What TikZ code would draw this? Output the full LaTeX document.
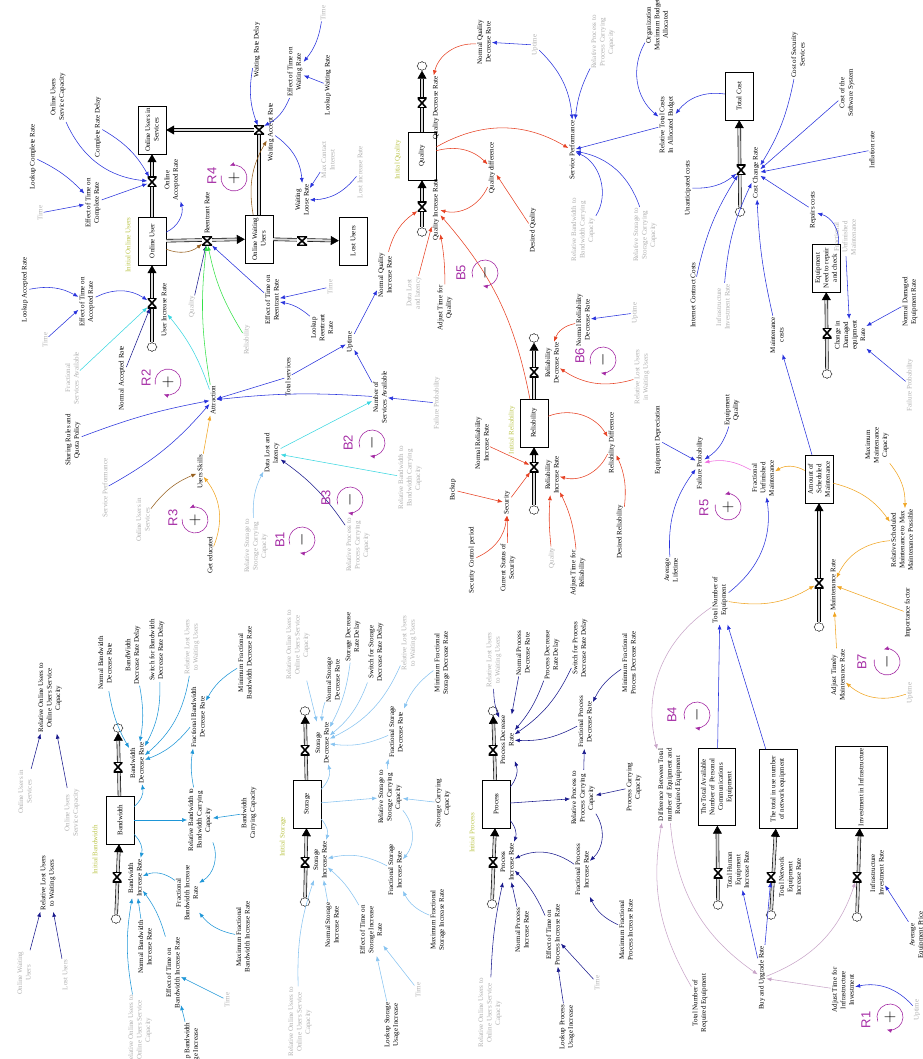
\documentclass[tikz,border=0pt]{standalone}
\usepackage{fontspec}
\setmainfont{Liberation Serif}
\setsansfont{Liberation Sans}
\usetikzlibrary{arrows.meta,shapes.symbols}
\definecolor{LinkBlue}{RGB}{40,50,220}
\definecolor{LinkNavy}{RGB}{25,25,140}
\definecolor{LinkCyan}{RGB}{30,150,215}
\definecolor{LinkSky}{RGB}{135,195,240}
\definecolor{LinkAqua}{RGB}{60,215,225}
\definecolor{LinkRed}{RGB}{230,65,35}
\definecolor{LinkOrange}{RGB}{240,165,35}
\definecolor{LinkBrown}{RGB}{150,95,30}
\definecolor{LinkGreen}{RGB}{50,225,70}
\definecolor{LinkPink}{RGB}{240,110,225}
\definecolor{LinkLilac}{RGB}{200,165,200}
\definecolor{LoopPurple}{RGB}{165,45,165}
\definecolor{InitOlive}{RGB}{185,195,70}
\definecolor{ShadowGray}{RGB}{175,175,175}
\tikzset{var/.style={rotate=90,align=center,inner sep=1pt,font=\fontsize{7}{8.5}\selectfont}, ghost/.style={var,text=ShadowGray}, init/.style={var,text=InitOlive},
stock/.style={var,draw,fill=white,inner sep=2pt,minimum width=48pt,minimum height=28pt},
pipe/.style={line width=0.6pt,double=gray!30,double distance=2.2pt,-{Triangle[length=8pt,width=9pt]}},
valve/.style={minimum width=9pt,minimum height=10pt,inner sep=0pt,fill=white,path picture={\draw[line width=1.6pt] (path picture bounding box.north west) -- (path picture bounding box.north east) -- (path picture bounding box.south west) -- (path picture bounding box.south east) -- cycle;}},
hvalve/.style={valve,rotate=90},
sink/.style={cloud,cloud puffs=8,draw,fill=white,minimum width=10pt,minimum height=9pt,inner sep=0pt},
lnk/.style={-{Latex[length=5pt,width=4pt]},line width=0.55pt},
loopsign/.style={rotate=90,inner sep=0pt,font=\fontsize{18}{18}\selectfont},
looplab/.style={rotate=90,text=LoopPurple,font=\sffamily\fontsize{13}{13}\selectfont},
loopring/.style={draw=LoopPurple,line width=0.6pt,-{Latex[length=5pt,width=4pt]}}}

\begin{document}
\begin{tikzpicture}[x=1pt,y=-1pt]
\useasboundingbox (0,0) rectangle (922,1059);
% users
\node[stock] (ous) at (152,130) {Online Users in\\Services};
\node[stock] (ou) at (152,241) {Online User};
\node[stock] (owu) at (259,239) {Online Waiting\\Users};
\node[stock] (lu) at (353,241) {Lost Users};
\node[init] (iou) at (128,245) {Initial Online Users};
\node[sink] (cuir) at (152,347) {};
\node[var] (uir) at (164,310) {User Increase Rate};
\node[var] (oar) at (172,180) {Online\\Accepted Rate};
\node[var] (rr) at (207,213) {Reentrant Rate};
\node[var] (war) at (271,132) {Waiting Accept Rate};
\node[var] (wlr) at (302,200) {Waiting\\Loose Rate};
\node[var] (lcr) at (33,157) {Lookup Complete Rate};
\node[var] (etcr) at (93,203) {Effect of Time on\\Complete Rate};
\node[ghost] (tm1) at (40,213) {Time};
\node[var] (ousc) at (58,97) {Online Users\\Service Capacity};
\node[var] (crd) at (98,127) {Complete Rate Delay};
\node[var] (lar) at (25,290) {Lookup Accepted Rate};
\node[var] (etar) at (87,302) {Effect of Time on\\Accepted Rate};
\node[ghost] (tm2) at (45,340) {Time};
\node[ghost] (fsa) at (72,378) {Fractional\\Services Available};
\node[var] (nar) at (122,378) {Normal Accepted Rate};
\node[ghost] (qu1) at (192,307) {Quality};
\node[ghost] (rel1) at (247,340) {Reliability};
\node[var] (etrr) at (272,300) {Effect of Time on\\Reentrant Rate};
\node[ghost] (tm3) at (330,287) {Time};
\node[var] (lrr) at (322,328) {Lookup\\Reentrant\\Rate};
\node[var] (wrd) at (257,50) {Waiting Rate Delay};
\node[var] (etwr) at (295,72) {Effect of Time on\\Waiting Rate};
\node[var] (lwr) at (328,85) {Lookup Waiting Rate};
\node[ghost] (tm4) at (323,13) {Time};
\node[ghost] (mci) at (328,160) {Max Contact\\Interest};
\node[ghost] (lir) at (360,172) {Lost Increase Rate};
% attraction
\node[var] (attr) at (213,400) {Attraction};
\node[var] (srqp) at (73,440) {Sharing Rules and\\Quota Policy};
\node[ghost] (sp1) at (105,488) {Service Performance};
\node[var] (usk) at (200,472) {Users Skills};
\node[ghost] (ous2) at (143,520) {Online Users in\\Services};
\node[var] (ged) at (210,555) {Get educated};
\node[var] (tsv) at (288,377) {Total services};
\node[var] (nsa) at (380,397) {Number of\\Services Available};
\node[var] (upt) at (350,342) {Uptime};
\node[ghost] (fp1) at (437,403) {Failure Probability};
\node[var] (dll) at (272,453) {Data Lost and\\latency};
\node[ghost] (rbc1) at (410,478) {Relative Bandwidth to\\Bandwidth Carrying\\Capacity};
\node[ghost] (rsc1) at (256,546) {Relative Storage to\\Storage Carrying\\Capacity};
\node[ghost] (rpc1) at (358,545) {Relative Process to\\Process Carrying\\Capacity};
% quality
\node[stock] (q) at (422,156) {Quality};
\node[init] (iq) at (398,160) {Initial Quality};
\node[sink] (cqi) at (422,232) {};
\node[sink] (cqd) at (422,66) {};
\node[var] (qir) at (436,210) {Quality Increase Rate};
\node[var] (qdr) at (436,108) {Quality Decrease Rate};
\node[var] (nqdr) at (484,42) {Normal Quality\\Decrease Rate};
\node[ghost] (upt2) at (535,45) {Uptime};
\node[ghost] (rpc2) at (603,42) {Relative Process to\\Process Carrying\\Capacity};
\node[var] (sp) at (572,150) {Service Performance};
\node[var] (qd) at (492,168) {Quality difference};
\node[var] (dq) at (533,230) {Desired Quality};
\node[ghost] (rbc2) at (583,230) {Relative Bandwidth to\\Bandwidth Carrying\\Capacity};
\node[ghost] (rsc2) at (645,235) {Relative Storage to\\Storage Carrying\\Capacity};
\node[var] (nqir) at (385,275) {Normal Quality\\Increase Rate};
\node[ghost] (dll2) at (414,293) {Data Lost\\and latency};
\node[var] (atq) at (445,308) {Adjust Time for\\Quality};
% reliability
\node[stock] (r) at (534,423) {Reliability};
\node[init] (ir) at (512,430) {Initial Reliability};
\node[sink] (cri) at (534,510) {};
\node[sink] (crd2) at (534,338) {};
\node[var] (rir) at (552,475) {Reliability\\Increase Rate};
\node[var] (rdr) at (552,363) {Reliability\\Decrease Rate};
\node[var] (nrir) at (482,443) {Normal Reliability\\Increase Rate};
\node[var] (bkp) at (453,490) {Backup};
\node[var] (sec) at (507,503) {Security};
\node[var] (scp) at (472,560) {Security Control period};
\node[var] (css) at (508,568) {Current Status of\\Security};
\node[ghost] (qu2) at (552,558) {Quality};
\node[var] (atr) at (578,573) {Adjust Time for\\Reliability};
\node[var] (rd) at (612,443) {Reliability Difference};
\node[var] (dr) at (620,532) {Desired Reliability};
\node[var] (nrdr) at (583,320) {Normal Reliability\\Decrease Rate};
\node[ghost] (upt3) at (635,313) {Uptime};
\node[ghost] (rlw1) at (642,377) {Relative Lost Users\\in Waiting Users};
% cost
\node[stock] (tc) at (739,96) {Total Cost};
\node[sink] (ccc) at (740,212) {};
\node[var] (ccr) at (756,173) {Cost Change Rate};
\node[var] (omb) at (657,25) {Organization\\Maximum Budget\\Allocated};
\node[var] (rtc) at (667,125) {Relative Total Costs\\In Allocated Budget};
\node[var] (cssv) at (798,55) {Cost of Security\\Services};
\node[var] (cssy) at (847,93) {Cost of the\\Software System};
\node[var] (infr) at (872,150) {Inflation rate};
\node[var] (repc) at (813,210) {Repairs costs};
\node[stock,minimum width=48pt] (enr) at (826,268) {Equipment\\Need to repair\\and check};
\node[sink] (cce) at (827,374) {};
\node[var] (cder) at (850,335) {Change in\\Damaged\\equipment\\Rate};
\node[var] (ndr) at (910,302) {Normal Damaged\\Equipment Rate};
\node[ghost] (fp2) at (910,385) {Failure Probability};
\node[ghost] (fum2) at (845,237) {Fractional\\Unfinished\\Maintenance};
\node[var] (uc) at (688,188) {Unanticipated costs};
\node[var] (icc) at (693,295) {Internet Contract Costs};
\node[ghost] (iir1) at (723,307) {Infrastructure\\Investment Rate};
\node[var] (mc) at (777,335) {Maintenance\\costs};
% maintenance
\node[stock] (asm) at (819,479) {Amount of\\Scheduled\\Maintenance};
\node[sink] (cm) at (819,627) {};
\node[var] (mr) at (833,585) {Maintenance Rate};
\node[var] (fum) at (763,478) {Fractional\\Unfinished\\Maintenance};
\node[var] (fp) at (700,463) {Failure Probability};
\node[var] (edp) at (658,440) {Equipment Depreciation};
\node[var] (eq) at (732,410) {Equipment\\Quality};
\node[var] (al) at (671,570) {Average\\Lifetime};
\node[var] (tne) at (720,600) {Total Number of\\Equipment};
\node[var] (rsm) at (902,540) {Relative Scheduled\\Maintenance to Max\\Maintenance Possible};
\node[var] (mmc) at (877,445) {Maximum\\Maintenance\\Capacity};
\node[var] (imf) at (908,613) {Importance factor};
\node[var] (atm) at (838,675) {Adjust Timely\\Maintenance Rate};
\node[ghost] (upt4) at (910,693) {Uptime};
% equipment
\node[stock,minimum width=77pt,minimum height=37pt] (tap) at (717,787) {The Total Available\\Number of Personal\\Communications\\Equipment};
\node[stock,minimum width=79pt,minimum height=38pt] (tnu) at (778,789) {The total in use number\\of network equipment};
\node[stock,minimum width=82pt,minimum height=52pt] (iinf) at (861,787) {Investment in Infrastructure};
\node[sink] (cth) at (718,905) {};
\node[sink] (ctn) at (771,915) {};
\node[sink] (cii) at (857,917) {};
\node[var] (their) at (738,870) {Total Human\\Equipment\\Increase Rate};
\node[var] (tneir) at (790,877) {Total Network\\Equipment\\Increase Rate};
\node[var] (iir) at (877,873) {Infrastructure\\Investment Rate};
\node[var] (aep) at (917,935) {Average\\Equipment Price};
\node[var] (dte) at (670,785) {Difference Between Total\\number of Equipment and\\Required Equipment};
\node[var] (pcc) at (634,787) {Process Carrying\\Capacity};
\node[var] (mfpir) at (626,930) {Maximum Fractional\\Process Increase Rate};
\node[var] (tnre) at (700,1003) {Total Number of\\Required Equipment};
\node[var] (bur) at (762,978) {Buy and Upgrade Rate};
\node[var] (atii) at (843,990) {Adjust Time for\\Infrastructure\\Investment};
\node[ghost] (upt5) at (917,1010) {Uptime};
% bandwidth
\node[stock] (bw) at (120,820) {Bandwidth};
\node[init] (ibw) at (95,850) {Initial Bandwidth};
\node[sink] (cbi) at (116,919) {};
\node[sink] (cbd) at (118,728) {};
\node[var] (bir) at (135,878) {Bandwidth\\Increase Rate};
\node[var] (bdr) at (137,763) {Bandwidth\\Decrease Rate};
\node[var] (rlw2) at (48,883) {Relative Lost Users\\to Waiting Users};
\node[ghost] (owu2) at (24,973) {Online Waiting\\Users};
\node[ghost] (lu2) at (65,975) {Lost Users};
\node[var] (rou1) at (50,698) {Relative Online Users to\\Online Users Service\\Capacity};
\node[ghost] (ous3) at (25,792) {Online Users in\\Services};
\node[ghost] (ousc2) at (72,813) {Online Users\\Service Capacity};
\node[var] (bcc) at (249,813) {Bandwidth\\Carrying Capacity};
\node[var] (rbc) at (200,820) {Relative Bandwidth to\\Bandwidth Carrying\\Capacity};
\node[var] (fbdr) at (198,717) {Fractional Bandwidth\\Decrease Rate};
\node[var] (fbir) at (187,893) {Fractional\\Bandwidth Increase\\Rate};
\node[var] (mfbir) at (243,937) {Maximum Fractional\\Bandwidth Increase Rate};
\node[var] (etbir) at (173,973) {Effect of Time on\\Bandwidth Increase Rate};
\node[var] (nbir) at (145,947) {Normal Bandwidth\\Increase Rate};
\node[ghost] (rou2) at (140,1030) {Relative Online Users to\\Online Users Service\\Capacity};
\node[var] (lbui) at (192,1050) {Lookup Bandwidth\\Usage Increase};
\node[ghost] (tm5) at (227,1000) {Time};
\node[var] (nbdr) at (105,663) {Normal Bandwidth\\Decrease Rate};
\node[var] (bdrd) at (133,655) {BandWidth\\Decrease Rate Delay};
\node[var] (sbdr) at (157,650) {Switch for Bandwidth\\Decrease Rate Delay};
\node[ghost] (rlw3) at (192,647) {Relative Lost Users\\to Waiting Users};
\node[var] (mfbdr) at (245,663) {Minimum Fractional\\Bandwidth Decrease Rate};
% storage
\node[stock] (st) at (307,804) {Storage};
\node[init] (ist) at (283,837) {Initial Storage};
\node[sink] (csi) at (305,902) {};
\node[sink] (csd) at (305,711) {};
\node[var] (sir) at (320,860) {Storage\\Increase Rate};
\node[var] (sdr) at (322,743) {Storage\\Decrease Rate};
\node[var] (rsc) at (390,797) {Relative Storage to\\Storage Carrying\\Capacity};
\node[var] (scc) at (443,803) {Storage Carrying\\Capacity};
\node[var] (fsdr) at (396,732) {Fractional Storage\\Decrease Rate};
\node[var] (fsir) at (395,870) {Fractional Storage\\Increase Rate};
\node[var] (mfsir) at (438,920) {Maximum Fractional\\Storage Increase Rate};
\node[var] (nsir) at (332,925) {Normal Storage\\Increase Rate};
\node[var] (etsir) at (371,930) {Effect of Time on\\Storage Increase\\Rate};
\node[var] (lsui) at (392,1025) {Lookup Storage\\Usage Increase};
\node[ghost] (tm6) at (418,990) {Time};
\node[ghost] (rou3) at (300,1022) {Relative Online Users to\\Online Users Service\\Capacity};
\node[var] (nsdr) at (333,680) {Normal Storage\\Decrease Rate};
\node[var] (sdrd) at (353,637) {Storage Decrease\\Rate Delay};
\node[var] (ssdr) at (376,652) {Switch for Storage\\Decrease Rate Delay};
\node[ghost] (rlw4) at (409,643) {Relative Lost Users\\to Waiting Users};
\node[var] (mfsdr) at (442,663) {Minimum Fractional\\Storage Decrease Rate};
\node[ghost] (rou4) at (298,645) {Relative Online Users to\\Online Users Service\\Capacity};
% process
\node[stock] (pr) at (496,804) {Process};
\node[init] (ipr) at (472,833) {Initial Process};
\node[sink] (cpi) at (492,904) {};
\node[sink] (cpd) at (493,711) {};
\node[var] (pir) at (507,862) {Process\\Increase Rate};
\node[var] (pdr) at (507,740) {Process Decrease\\Rate};
\node[var] (rpc) at (583,798) {Relative Process to\\Process Carrying\\Capacity};
\node[var] (fpdr) at (585,722) {Fractional Process\\Decrease Rate};
\node[var] (fpir) at (582,870) {Fractional Process\\Increase Rate};
\node[var] (npir) at (522,930) {Normal Process\\Increase Rate};
\node[var] (etpir) at (553,935) {Effect of Time on\\Process Increase Rate};
\node[var] (lpui) at (567,1027) {Lookup Process\\Usage Increase};
\node[ghost] (tm7) at (597,983) {Time};
\node[ghost] (rou5) at (490,1013) {Relative Online Users to\\Online Users Service\\Capacity};
\node[ghost] (rlw5) at (494,660) {Relative Lost Users\\to Waiting Users};
\node[var] (npdr) at (523,653) {Normal Process\\Decrease Rate};
\node[var] (pdrd) at (552,655) {Process Decrease\\Rate Delay};
\node[var] (spdr) at (580,648) {Switch for Process\\Decrease Rate Delay};
\node[var] (mfpdr) at (629,663) {Minimum Fractional\\Process Decrease Rate};
% pipes
\draw[pipe] (cuir) -- (ou);
\draw[pipe] (ou) -- (ous);
\draw[pipe] (ou) -- (owu);
\draw[pipe] (owu.east) |- (ous.south);
\draw[pipe] (owu) -- (lu);
\draw[pipe] (cqi) -- (q);
\draw[pipe] (q) -- (cqd);
\draw[pipe] (cri) -- (r);
\draw[pipe] (r) -- (crd2);
\draw[pipe] (ccc) -- (tc);
\draw[pipe] (cce) -- (enr);
\draw[pipe] (cm) -- (asm);
\draw[pipe] (cth) -- (tap);
\draw[pipe] (ctn) -- (tnu);
\draw[pipe] (cii) -- (iinf);
\draw[pipe] (cbi) -- (bw);
\draw[pipe] (bw) -- (cbd);
\draw[pipe] (csi) -- (st);
\draw[pipe] (st) -- (csd);
\draw[pipe] (cpi) -- (pr);
\draw[pipe] (pr) -- (cpd);
\node[valve] (vuir) at (152,303) {};
\node[valve] (voar) at (152,182) {};
\node[hvalve] (vrr) at (207,241) {};
\node[hvalve] (vwar) at (259,130) {};
\node[hvalve] (vwlr) at (302,241) {};
\node[valve] (vqir) at (422,207) {};
\node[valve] (vqdr) at (422,103) {};
\node[valve] (vrir) at (534,467) {};
\node[valve] (vrdr) at (534,372) {};
\node[valve] (vccr) at (741,170) {};
\node[valve] (vcder) at (827,333) {};
\node[valve] (vmr) at (819,583) {};
\node[valve] (vthe) at (718,873) {};
\node[valve] (vtne) at (771,877) {};
\node[valve] (viir) at (857,877) {};
\node[valve] (vbir) at (117,877) {};
\node[valve] (vbdr) at (118,767) {};
\node[valve] (vsir) at (305,862) {};
\node[valve] (vsdr) at (305,750) {};
\node[valve] (vpir) at (493,862) {};
\node[valve] (vpdr) at (493,750) {};
% links users
\draw[lnk,LinkBlue] (lcr) to[bend left=10] (etcr);
\draw[lnk,LinkBlue] (tm1) -- (etcr);
\draw[lnk,LinkBlue] (ousc) to[bend right=30] (voar);
\draw[lnk,LinkBlue] (crd) to[bend left=15] (voar);
\draw[lnk,LinkBlue] (etcr) -- (voar);
\draw[lnk,LinkBlue] (ou) to[bend right=40] (oar);
\draw[lnk,LinkBlue] (lar) to[bend left=20] (etar);
\draw[lnk,LinkBlue] (tm2) -- (etar);
\draw[lnk,LinkBlue] (etar) to[bend left=30] (vuir);
\draw[lnk,LinkBrown] (owu) to[bend left=20] (war);
\draw[lnk,LinkBrown] (ou) to[bend right=30] (vrr);
\draw[lnk,LinkNavy] (qu1) -- (vrr);
\draw[lnk,LinkGreen] (attr) to[bend left=8] (vrr);
\draw[lnk,LinkGreen] (rel1) to[bend left=10] (vrr);
\draw[lnk,LinkBlue] (etrr) -- (vrr);
\draw[lnk,LinkBlue] (tm3) -- (etrr);
\draw[lnk,LinkBlue] (lrr) to[bend right=15] (etrr);
\draw[lnk,LinkBlue] (wrd) to[bend right=15] (vwar);
\draw[lnk,LinkBlue] (etwr) to[bend left=20] (vwar);
\draw[lnk,LinkBlue] (lwr) -- (etwr);
\draw[lnk,LinkBlue] (tm4) to[bend left=15] (etwr);
\draw[lnk,LinkBlue] (war) to[bend left=25] (wlr);
\draw[lnk,LinkBlue] (mci) -- (wlr);
\draw[lnk,LinkBlue] (lir) to[bend left=25] (wlr);
\draw[lnk,LinkAqua] (fsa) -- (vuir);
\draw[lnk,LinkAqua] (attr) to[bend right=10] (uir);
\draw[lnk,LinkNavy] (nar) -- (vuir);
% links attraction
\draw[lnk,LinkBlue] (srqp) to[bend left=5] (attr);
\draw[lnk,LinkBlue] (sp1) to[bend right=10] (attr);
\draw[lnk,LinkOrange] (usk) -- (attr);
\draw[lnk,LinkBrown] (ous2) to[bend left=15] (usk);
\draw[lnk,LinkOrange] (ged) to[bend right=30] (usk);
\draw[lnk,LinkBlue] (tsv) -- (attr);
\draw[lnk,LinkBlue] (tsv) -- (upt);
\draw[lnk,LinkBlue] (nsa) to[bend right=5] (attr);
\draw[lnk,LinkBlue] (nsa) -- (upt);
\draw[lnk,LinkBlue] (fp1) -- (nsa);
\draw[lnk,LinkAqua] (dll) -- (nsa);
\draw[lnk,LinkAqua] (rbc1) -- (dll);
\draw[lnk,LinkSky] (rsc1) to[bend left=15] (dll);
\draw[lnk,LinkNavy] (rpc1) to[bend right=10] (dll);
\draw[lnk,LinkBlue] (upt) -- (nqir);
% links quality
\draw[lnk,LinkRed] (nqdr) to[bend right=40] (qdr);
\draw[lnk,LinkBlue] (upt2) -- (nqdr);
\draw[lnk,LinkBlue] (upt2) to[bend left=20] (sp);
\draw[lnk,LinkBlue] (rpc2) to[bend right=10] (sp);
\draw[lnk,LinkRed] (q) to[bend left=30] (sp);
\draw[lnk,LinkRed] (q) to[bend left=30] (qd);
\draw[lnk,LinkRed] (dq) -- (qd);
\draw[lnk,LinkRed] (qd) to[bend left=40] (qir);
\draw[lnk,LinkBlue] (rbc2) to[bend right=50] (sp);
\draw[lnk,LinkBlue] (rsc2) to[bend right=30] (sp);
\draw[lnk,LinkBlue] (rtc) -- (sp);
\draw[lnk,LinkRed] (nqir) to[bend left=20] (vqir);
\draw[lnk,LinkRed] (dll2) -- (qir);
\draw[lnk,LinkRed] (atq) to[bend right=5] (qir);
\draw[lnk,LinkRed] (r) to[bend right=15] (qir);
% links reliability
\draw[lnk,LinkRed] (nrir) -- (vrir);
\draw[lnk,LinkRed] (bkp) -- (sec);
\draw[lnk,LinkRed] (sec) -- (vrir);
\draw[lnk,LinkRed] (scp) to[bend right=30] (sec);
\draw[lnk,LinkRed] (css) -- (sec);
\draw[lnk,LinkRed] (qu2) to[bend left=5] (rir);
\draw[lnk,LinkRed] (atr) to[bend right=10] (rir);
\draw[lnk,LinkRed] (r) to[bend left=40] (rd);
\draw[lnk,LinkRed] (rd) to[bend left=40] (rir);
\draw[lnk,LinkRed] (dr) to[bend right=15] (rd);
\draw[lnk,LinkRed] (nrdr) to[bend right=30] (rdr);
\draw[lnk,LinkBlue] (upt3) -- (nrdr);
\draw[lnk,LinkRed] (rlw1) to[bend left=25] (rdr);
% links cost
\draw[lnk,LinkBlue] (omb) to[bend right=40] (rtc);
\draw[lnk,LinkBlue] (tc) to[bend right=30] (rtc);
\draw[lnk,LinkBlue] (cssv) to[bend left=10] (ccr);
\draw[lnk,LinkBlue] (cssy) -- (ccr);
\draw[lnk,LinkBlue] (infr) -- (ccr);
\draw[lnk,LinkBlue] (repc) -- (ccr);
\draw[lnk,LinkBlue] (enr) to[bend right=40] (repc);
\draw[lnk,LinkBlue] (uc) to[bend right=20] (vccr);
\draw[lnk,LinkBlue] (icc) to[bend left=10] (vccr);
\draw[lnk,LinkBlue] (iir1) to[bend left=10] (ccr);
\draw[lnk,LinkBlue] (mc) to[bend left=5] (ccr);
\draw[lnk,LinkBlue] (asm) -- (mc);
\draw[lnk,LinkBlue] (ndr) -- (cder);
\draw[lnk,LinkBlue] (fp2) -- (cder);
\draw[lnk,LinkBlue] (fum2) -- (cder);
% links maintenance
\draw[lnk,LinkOrange] (asm) to[bend right=30] (fum);
\draw[lnk,LinkPink] (fum) to[bend right=20] (fp);
\draw[lnk,LinkBlue] (edp) -- (fp);
\draw[lnk,LinkBlue] (eq) to[bend left=20] (fp);
\draw[lnk,LinkBlue] (al) to[bend left=20] (fp);
\draw[lnk,LinkBlue] (tne) to[bend right=30] (fum);
\draw[lnk,LinkOrange] (tne) to[bend right=20] (vmr);
\draw[lnk,LinkOrange] (asm) to[bend left=20] (rsm);
\draw[lnk,LinkOrange] (rsm) to[bend right=30] (mr);
\draw[lnk,LinkOrange] (mmc) to[bend left=20] (rsm);
\draw[lnk,LinkOrange] (imf) -- (mr);
\draw[lnk,LinkOrange] (atm) -- (mr);
\draw[lnk,LinkOrange] (upt4) to[bend left=30] (atm);
% links equipment
\draw[lnk,LinkBlue] (tap) -- (tne);
\draw[lnk,LinkBlue] (tnu) -- (tne);
\draw[lnk,LinkLilac] (tne) to[bend right=35] (dte);
\draw[lnk,LinkLilac] (tnre) to[bend left=20] (dte);
\draw[lnk,LinkLilac] (dte) to[bend right=25] (bur);
\draw[lnk,LinkBlue] (bur) -- (their);
\draw[lnk,LinkBlue] (bur) -- (vtne);
\draw[lnk,LinkLilac] (bur) to[bend right=25] (viir);
\draw[lnk,LinkLilac] (atii) -- (bur);
\draw[lnk,LinkBlue] (upt5) to[bend right=30] (atii);
\draw[lnk,LinkBlue] (aep) -- (iir);
\draw[lnk,LinkNavy] (pcc) -- (rpc);
% links bandwidth
\draw[lnk,LinkCyan] (bw) -- (rbc);
\draw[lnk,LinkCyan] (bcc) -- (rbc);
\draw[lnk,LinkCyan] (rbc) to[bend left=10] (fbdr);
\draw[lnk,LinkCyan] (rbc) to[bend left=40] (fbir);
\draw[lnk,LinkCyan] (fbir) to[bend right=30] (bir);
\draw[lnk,LinkCyan] (bw) to[bend left=30] (bir);
\draw[lnk,LinkCyan] (bw) to[bend right=30] (bdr);
\draw[lnk,LinkCyan] (mfbir) to[bend left=20] (fbir);
\draw[lnk,LinkCyan] (etbir) to[bend right=10] (bir);
\draw[lnk,LinkCyan] (nbir) -- (bir);
\draw[lnk,LinkCyan] (rou2) to[bend left=10] (bir);
\draw[lnk,LinkCyan] (lbui) -- (etbir);
\draw[lnk,LinkCyan] (tm5) -- (etbir);
\draw[lnk,LinkCyan] (nbdr) to[bend right=10] (bdr);
\draw[lnk,LinkCyan] (bdrd) to[bend left=10] (bdr);
\draw[lnk,LinkCyan] (sbdr) to[bend left=15] (bdr);
\draw[lnk,LinkCyan] (rlw3) to[bend left=20] (bdr);
\draw[lnk,LinkCyan] (mfbdr) to[bend right=15] (fbdr);
\draw[lnk,LinkCyan] (fbdr) to[bend left=15] (bdr);
\draw[lnk,LinkNavy] (owu2) -- (rlw2);
\draw[lnk,LinkNavy] (lu2) -- (rlw2);
\draw[lnk,LinkNavy] (ous3) -- (rou1);
\draw[lnk,LinkNavy] (ousc2) -- (rou1);
% links storage
\draw[lnk,LinkSky] (st) -- (rsc);
\draw[lnk,LinkSky] (scc) -- (rsc);
\draw[lnk,LinkSky] (rsc) to[bend left=10] (fsdr);
\draw[lnk,LinkSky] (rsc) to[bend left=40] (fsir);
\draw[lnk,LinkSky] (fsir) to[bend right=20] (sir);
\draw[lnk,LinkSky] (st) to[bend left=30] (sir);
\draw[lnk,LinkSky] (st) to[bend right=30] (sdr);
\draw[lnk,LinkSky] (mfsir) to[bend left=20] (fsir);
\draw[lnk,LinkSky] (nsir) -- (sir);
\draw[lnk,LinkSky] (etsir) to[bend right=10] (sir);
\draw[lnk,LinkSky] (rou3) to[bend left=10] (sir);
\draw[lnk,LinkSky] (lsui) -- (etsir);
\draw[lnk,LinkSky] (tm6) -- (etsir);
\draw[lnk,LinkSky] (nsdr) to[bend right=10] (sdr);
\draw[lnk,LinkSky] (sdrd) to[bend left=10] (sdr);
\draw[lnk,LinkSky] (ssdr) to[bend left=15] (sdr);
\draw[lnk,LinkSky] (rlw4) to[bend left=20] (sdr);
\draw[lnk,LinkSky] (rou4) -- (sdr);
\draw[lnk,LinkSky] (mfsdr) to[bend right=15] (fsdr);
\draw[lnk,LinkSky] (fsdr) to[bend left=15] (sdr);
% links process
\draw[lnk,LinkNavy] (pr) -- (rpc);
\draw[lnk,LinkNavy] (rpc) -- (fpdr);
\draw[lnk,LinkNavy] (rpc) to[bend left=40] (fpir);
\draw[lnk,LinkNavy] (fpir) to[bend right=30] (pir);
\draw[lnk,LinkNavy] (pr) to[bend left=30] (pir);
\draw[lnk,LinkNavy] (pr) to[bend right=30] (pdr);
\draw[lnk,LinkNavy] (mfpir) to[bend left=20] (fpir);
\draw[lnk,LinkNavy] (npir) -- (pir);
\draw[lnk,LinkNavy] (etpir) to[bend right=10] (pir);
\draw[lnk,LinkNavy] (rou5) to[bend left=5] (pir);
\draw[lnk,LinkNavy] (lpui) -- (etpir);
\draw[lnk,LinkNavy] (tm7) -- (etpir);
\draw[lnk,LinkNavy] (rlw5) to[bend right=10] (pdr);
\draw[lnk,LinkNavy] (npdr) -- (pdr);
\draw[lnk,LinkNavy] (pdrd) to[bend left=10] (pdr);
\draw[lnk,LinkNavy] (spdr) to[bend left=15] (pdr);
\draw[lnk,LinkNavy] (mfpdr) to[bend right=15] (fpdr);
\draw[lnk,LinkNavy] (fpdr) to[bend left=15] (pdr);
% loops
\node[loopsign] (r4s) at (234,178) {$+$};
\node[looplab] (r4l) at (212,176) {R4};
\draw[loopring] ([shift={(-190:13pt)}]r4s.center) arc[start angle=-190,end angle=110,radius=13pt];
\node[loopsign] (r2s) at (168,382) {$+$};
\node[looplab] (r2l) at (146,378) {R2};
\draw[loopring] ([shift={(550:13pt)}]r2s.center) arc[start angle=550,end angle=250,radius=13pt];
\node[loopsign] (r3s) at (195,520) {$+$};
\node[looplab] (r3l) at (173,518) {R3};
\draw[loopring] ([shift={(-185:13pt)}]r3s.center) arc[start angle=-185,end angle=115,radius=13pt];
\node[loopsign] (b1s) at (302,540) {$-$};
\node[looplab] (b1l) at (280,540) {B1};
\draw[loopring] ([shift={(560:13pt)}]b1s.center) arc[start angle=560,end angle=260,radius=13pt];
\node[loopsign] (b2s) at (372,443) {$-$};
\node[looplab] (b2l) at (348,443) {B2};
\draw[loopring] ([shift={(560:13pt)}]b2s.center) arc[start angle=560,end angle=260,radius=13pt];
\node[loopsign] (b3s) at (350,500) {$-$};
\node[looplab] (b3l) at (326,498) {B3};
\draw[loopring] ([shift={(560:13pt)}]b3s.center) arc[start angle=560,end angle=260,radius=13pt];
\node[loopsign] (b5s) at (485,273) {$-$};
\node[looplab] (b5l) at (461,273) {B5};
\draw[loopring] ([shift={(560:13pt)}]b5s.center) arc[start angle=560,end angle=260,radius=13pt];
\node[loopsign] (b6s) at (603,360) {$-$};
\node[looplab] (b6l) at (580,356) {B6};
\draw[loopring] ([shift={(560:13pt)}]b6s.center) arc[start angle=560,end angle=260,radius=13pt];
\node[loopsign] (r5s) at (728,507) {$+$};
\node[looplab] (r5l) at (704,508) {R5};
\draw[loopring] ([shift={(-190:13pt)}]r5s.center) arc[start angle=-190,end angle=105,radius=13pt];
\node[loopsign] (b7s) at (887,662) {$-$};
\node[looplab] (b7l) at (862,662) {B7};
\draw[loopring] ([shift={(-190:13pt)}]b7s.center) arc[start angle=-190,end angle=105,radius=13pt];
\node[loopsign] (b4s) at (697,715) {$-$};
\node[looplab] (b4l) at (672,715) {B4};
\draw[loopring] ([shift={(560:13pt)}]b4s.center) arc[start angle=560,end angle=260,radius=13pt];
\node[loopsign] (r1s) at (890,1017) {$+$};
\node[looplab] (r1l) at (866,1020) {R1};
\draw[loopring] ([shift={(560:13pt)}]r1s.center) arc[start angle=560,end angle=255,radius=13pt];
\end{tikzpicture}
\end{document}
